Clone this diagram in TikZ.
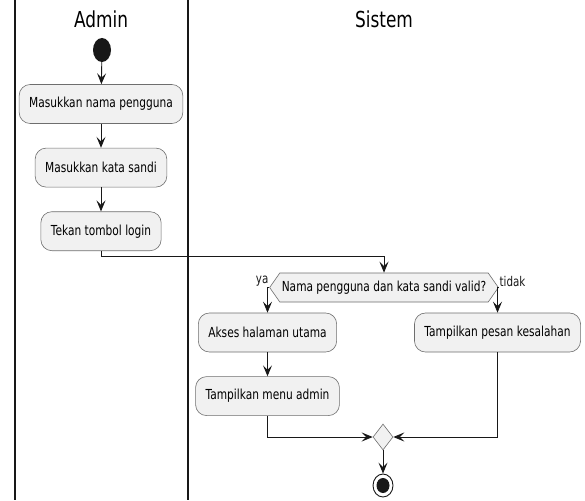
\documentclass[tikz,border=0pt]{standalone}
\usepackage{fontspec}
\setmainfont[FakeStretch=0.77]{DejaVu Sans}
\usepackage{tikz}
\usetikzlibrary{arrows.meta, positioning, shapes.geometric, shapes.symbols}
\definecolor{actfill}{HTML}{F1F1F1}
\definecolor{actline}{HTML}{181818}
\definecolor{actborder}{HTML}{6E6E6E}

\begin{document}
\begin{tikzpicture}[
  x=1pt, y=-1pt,
  node distance=24pt,
  act/.style={draw=actborder, fill=actfill, rounded corners=11pt,
              minimum height=39pt, inner xsep=10pt, line width=0.6pt,
              font=\fontsize{13.8}{16}\selectfont},
  decision/.style={shape=signal, signal to=west and east,
                   signal pointer angle=110, draw=actborder, fill=actfill,
                   minimum height=29pt, minimum width=216pt, inner xsep=2pt,
                   line width=0.6pt, font=\fontsize{13.8}{16}\selectfont},
  merge/.style={diamond, draw=actborder, fill=actfill, minimum width=20pt,
                minimum height=26pt, inner sep=0pt, line width=0.6pt},
  startdot/.style={ellipse, fill=actline, minimum width=18pt,
                   minimum height=24pt, inner sep=0pt},
  enddot/.style={ellipse, draw=actline, fill=white, minimum width=20pt,
                 minimum height=23pt, inner sep=0pt, line width=0.9pt},
  lane/.style={line width=1.2pt, actline},
  lanetitle/.style={font=\fontsize{22}{26}\selectfont},
  flow/.style={-{Stealth[length=11pt, width=9pt, inset=4.5pt]},
               line width=0.9pt, actline},
  lbl/.style={font=\fontsize{13.4}{15}\selectfont, inner sep=0.5pt}
]
\useasboundingbox (0,0) rectangle (585,500);

% swimlanes
\draw[lane] (15,0) -- (15,500);
\draw[lane] (188,0) -- (188,500);
\node[lanetitle] (tadmin) at (101,19) {Admin};
\node[lanetitle] (tsistem) at (384,19) {Sistem};

% admin lane
\node[startdot] (start) at (102,50) {};
\node[act] (nama) at (101,104) {Masukkan nama pengguna};
\node[act, below=of nama] (sandi) {Masukkan kata sandi};
\node[act, below=of sandi] (login) {Tekan tombol login};

% system lane
\node[decision] (cek) at (384,287.5) {Nama pengguna dan kata sandi valid?};
\node[act] (akses) at (267.5,332.5) {Akses halaman utama};
\node[act, below=of akses] (menu) {Tampilkan menu admin};
\node[act] (pesan) at (497.5,332.5) {Tampilkan pesan kesalahan};
\node[merge] (gabung) at (383,437) {};
\node[enddot] (selesai) at (383,485.5) {};
\node[ellipse, fill=actline, minimum width=13pt, minimum height=15pt,
      inner sep=0pt] (selesaidot) at (selesai) {};

% flow
\draw[flow] (start) -- (nama);
\draw[flow] (nama) -- (sandi);
\draw[flow] (sandi) -- (login);
\draw[flow] (login.south) -- ++(0,5) -| (cek.north);
\draw[flow] (cek.west) -| node[lbl, pos=0, anchor=south east] {ya} (akses.north);
\draw[flow] (cek.east) -| node[lbl, pos=0, anchor=south west] {tidak} (pesan.north);
\draw[flow] (akses) -- (menu);
\draw[flow] (menu.south) |- (gabung.west);
\draw[flow] (pesan.south) |- (gabung.east);
\draw[flow] (gabung) -- (selesai);

\end{tikzpicture}
\end{document}
